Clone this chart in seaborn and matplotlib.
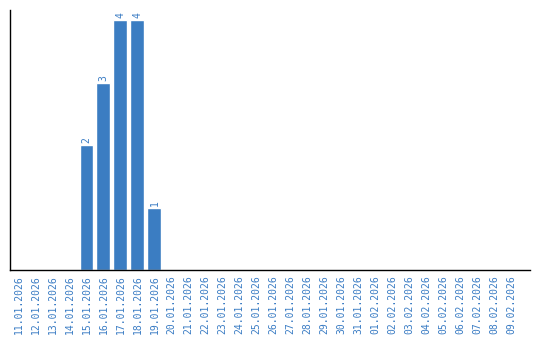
import matplotlib
matplotlib.use("Agg")
import matplotlib.pyplot as plt
import seaborn as sns
import pandas as pd

dates = ["11.01.2026", "12.01.2026", "13.01.2026", "14.01.2026", "15.01.2026",
         "16.01.2026", "17.01.2026", "18.01.2026", "19.01.2026", "20.01.2026",
         "21.01.2026", "22.01.2026", "23.01.2026", "24.01.2026", "25.01.2026",
         "26.01.2026", "27.01.2026", "28.01.2026", "29.01.2026", "30.01.2026",
         "31.01.2026", "01.02.2026", "02.02.2026", "03.02.2026", "04.02.2026",
         "05.02.2026", "06.02.2026", "07.02.2026", "08.02.2026", "09.02.2026"]
counts = [0, 0, 0, 0, 2, 3, 4, 4, 1, 0,
          0, 0, 0, 0, 0, 0, 0, 0, 0, 0,
          0, 0, 0, 0, 0, 0, 0, 0, 0, 0]

df = pd.DataFrame({"date": dates, "count": counts})

sns.set_style("white")
plt.rcParams['font.family'] = ['DejaVu Sans Mono']
blue = "#3b7dc2"
label_blue = "#3a7cc4"

fig = plt.figure(figsize=(5.4, 3.4), dpi=100)
ax = fig.add_axes([10/540, 1 - 270/340, 520/540, 260/340])
sns.barplot(data=df, x="date", y="count", color=blue, saturation=1, width=0.82, ax=ax)

for i, v in enumerate(counts):
    if v > 0:
        ax.text(i, v + 0.03, str(v), rotation=90, ha="center", va="bottom",
                color=label_blue, fontsize=7)

ax.set_xlim(-0.5, 30.1)
ax.set_ylim(0, 4.16)
ax.set_xlabel("")
ax.set_ylabel("")
ax.set_yticks([])
ax.tick_params(axis="x", rotation=90, labelsize=7, labelcolor=label_blue, length=0, pad=4)
for lbl in ax.get_xticklabels():
    lbl.set_rotation(90)
sns.despine(ax=ax, top=True, right=True)
ax.spines["left"].set_color("black")
ax.spines["bottom"].set_color("black")
ax.spines["left"].set_linewidth(1)
ax.spines["bottom"].set_linewidth(1)

fig.savefig("out.png", dpi=100)
